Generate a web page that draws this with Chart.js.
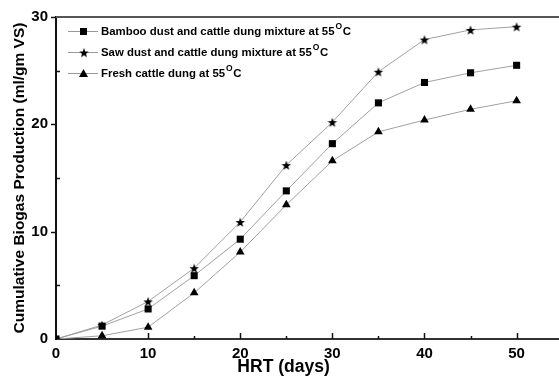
<!DOCTYPE html>
<html>
<head>
<meta charset="utf-8">
<script src="https://cdn.jsdelivr.net/npm/chart.js@4"></script>
<style>
  html, body { margin: 0; padding: 0; background: #fff; overflow: hidden; }
  #wrap { position: relative; width: 565px; height: 376px; }
</style>
</head>
<body>
<div id="wrap"><canvas id="biogasChart"></canvas></div>
<script>
var hrtDays = [0, 5, 10, 15, 20, 25, 30, 35, 40, 45, 50];
var bambooMix = [0, 1.2, 2.8, 5.9, 9.3, 13.8, 18.2, 22.0, 23.9, 24.8, 25.5];
var sawMix    = [0, 1.3, 3.5, 6.6, 10.9, 16.2, 20.2, 24.9, 27.9, 28.8, 29.1];
var freshDung = [0, 0.3, 1.1, 4.3, 8.1, 12.5, 16.6, 19.3, 20.4, 21.4, 22.2];
var seriesNames = [
  "Bamboo dust and cattle dung mixture at 55",
  "Saw dust and cattle dung mixture at 55",
  "Fresh cattle dung at 55"
];
var xTicks = [0, 10, 20, 30, 40, 50];
var yTicks = [0, 10, 20, 30];

var FONT = "'Liberation Sans', Arial, sans-serif";

// filled five point star, chart.js "star" is only spokes
function makeStar(r) {
  var c = document.createElement('canvas');
  c.width = c.height = Math.ceil(r * 2 + 2);
  var g = c.getContext('2d');
  g.fillStyle = '#000';
  g.beginPath();
  for (var i = 0; i < 10; i++) {
    var a = -Math.PI / 2 + i * Math.PI / 5;
    var rr = (i % 2 === 0) ? r : r * 0.42;
    g.lineTo(c.width / 2 + rr * Math.cos(a), c.height / 2 + 0.6 + rr * Math.sin(a));
  }
  g.closePath();
  g.fill();
  return c;
}
var starImg = makeStar(5);

function pts(arr) {
  return arr.map(function(v, i){ return {x: hrtDays[i], y: v}; });
}

var decor = {
  id: 'decor',
  afterDraw: function(chart) {
    var ctx = chart.ctx, xs = chart.scales.x, ys = chart.scales.y, a = chart.chartArea;
    ctx.save();
    // top frame line
    ctx.strokeStyle = '#555';
    ctx.lineWidth = 2;
    ctx.beginPath();
    ctx.moveTo(a.left, a.top);
    ctx.lineTo(chart.width, a.top);
    ctx.stroke();

    ctx.strokeStyle = '#111';
    ctx.lineWidth = 1.5;
    // x ticks, all pointing up into the plot
    for (var v = 5; v <= 55; v += 5) {
      var px = Math.round(xs.getPixelForValue(v)) + 0.5;
      var len = (v % 10 === 0) ? 6 : 3;
      ctx.beginPath();
      ctx.moveTo(px, a.bottom);
      ctx.lineTo(px, a.bottom - len);
      ctx.stroke();
    }
    // y ticks: majors outside, minors inside
    for (var w = 5; w <= 30; w += 5) {
      var py = Math.round(ys.getPixelForValue(w)) + 0.5;
      ctx.beginPath();
      if (w % 10 === 0) {
        ctx.moveTo(a.left, py);
        ctx.lineTo(a.left - 5, py);
      } else {
        ctx.moveTo(a.left, py);
        ctx.lineTo(a.left + 4, py);
      }
      ctx.stroke();
    }

    // x title
    ctx.fillStyle = '#000';
    ctx.font = 'bold 17.5px ' + FONT;
    ctx.textAlign = 'center';
    ctx.textBaseline = 'middle';
    ctx.fillText('HRT (days)', xs.getPixelForValue(24.7), 367);

    // legend
    var ds = chart.data.datasets;
    var rows = [31, 52, 73];
    ctx.textAlign = 'left';
    for (var i = 0; i < ds.length; i++) {
      var y = rows[i];
      ctx.strokeStyle = '#999';
      ctx.lineWidth = 1;
      ctx.beginPath();
      ctx.moveTo(68, y + 0.5);
      ctx.lineTo(98, y + 0.5);
      ctx.stroke();
      ctx.fillStyle = '#000';
      if (i === 0) {
        ctx.fillRect(80, y - 3, 7, 7);
      } else if (i === 1) {
        ctx.drawImage(starImg, 84 - starImg.width / 2, y + 0.5 - starImg.height / 2);
      } else {
        ctx.beginPath();
        ctx.moveTo(83.5, y - 4);
        ctx.lineTo(88, y + 4);
        ctx.lineTo(79, y + 4);
        ctx.closePath();
        ctx.fill();
      }
      ctx.font = 'bold 11.4px ' + FONT;
      ctx.textBaseline = 'middle';
      var tx = 101;
      ctx.fillText(seriesNames[i], tx, y + 1);
      tx += ctx.measureText(seriesNames[i]).width + 1;
      ctx.font = 'bold 8.5px ' + FONT;
      ctx.fillText('O', tx, y - 4);
      tx += ctx.measureText('O').width + 0.5;
      ctx.font = 'bold 11.4px ' + FONT;
      ctx.fillText('C', tx, y + 1);
    }
    ctx.restore();
  }
};

var lineCommon = {
  borderColor: '#a0a0a0',
  borderWidth: 1,
  backgroundColor: '#000',
  pointBorderColor: '#000',
  showLine: true,
  tension: 0
};

window.chart = new Chart("biogasChart", {
  type: "scatter",
  data: {
    datasets: [
      Object.assign({label: seriesNames[0], data: pts(bambooMix), pointStyle: 'rect', pointRadius: 5, pointBorderWidth: 0}, lineCommon),
      Object.assign({label: seriesNames[1], data: pts(sawMix), pointStyle: starImg, pointRadius: 5}, lineCommon),
      Object.assign({label: seriesNames[2], data: pts(freshDung), pointStyle: 'triangle', pointRadius: 5, pointBorderWidth: 0}, lineCommon)
    ]
  },
  options: {
    responsive: true,
    maintainAspectRatio: false,
    animation: false,
    layout: {padding: {top: 13, right: 0, left: 0, bottom: 0}},
    plugins: {legend: {display: false}, tooltip: {enabled: false}},
    scales: {
      x: {
        type: 'linear', min: 0, max: 54.6,
        afterBuildTicks: function(s){ s.ticks = xTicks.map(function(v){ return {value: v}; }); },
        afterFit: function(s){ s.height = 37; },
        grid: {display: true, drawOnChartArea: false, drawTicks: false},
        border: {display: true, color: '#333', width: 2},
        ticks: {color: '#000', padding: 6, maxRotation: 0, font: {family: FONT, size: 15, weight: 'bold'}}
      },
      y: {
        min: 0, max: 30,
        afterBuildTicks: function(s){ s.ticks = yTicks.map(function(v){ return {value: v}; }); },
        afterFit: function(s){ s.width = 56; },
        grid: {display: true, drawOnChartArea: false, drawTicks: false},
        border: {display: true, color: '#111', width: 2},
        ticks: {color: '#000', padding: 8, font: {family: FONT, size: 15, weight: 'bold'}},
        title: {display: true, text: 'Cumulative Biogas Production (ml/gm VS)', color: '#000', padding: {top: 10, bottom: 0}, font: {family: FONT, size: 15.5, weight: 'bold'}}
      }
    }
  },
  plugins: [decor]
});
</script>
</body>
</html>
